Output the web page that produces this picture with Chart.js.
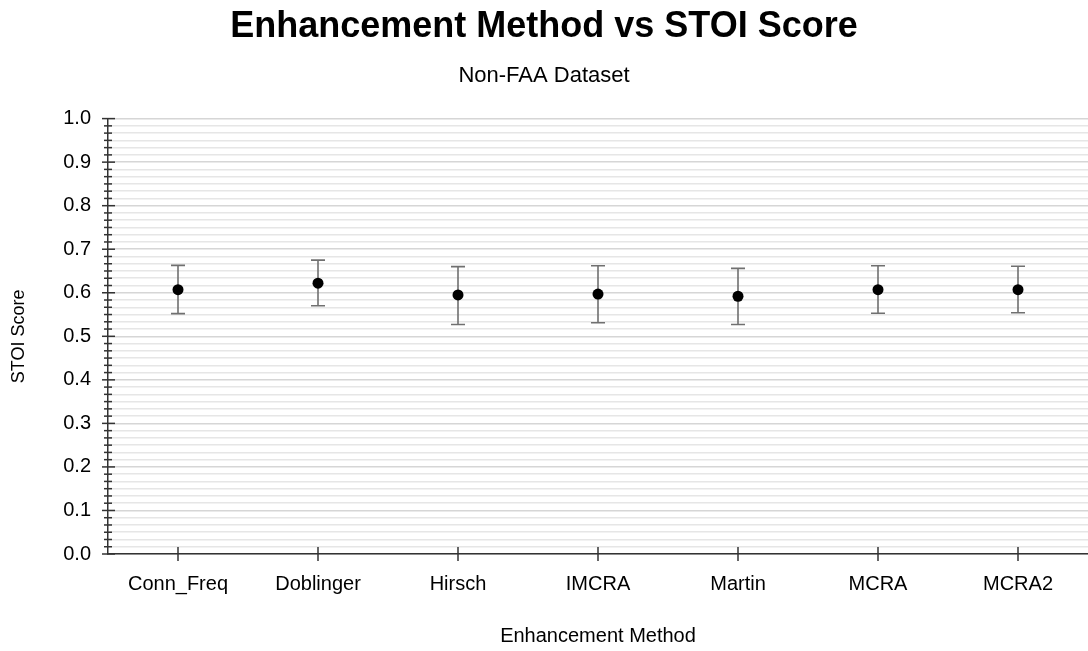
<!DOCTYPE html>
<html>
<head>
<meta charset="utf-8">
<script src="https://cdn.jsdelivr.net/npm/chart.js@4/dist/chart.umd.min.js"></script>
<style>
  html, body { margin: 0; padding: 0; background: #ffffff; }
  #wrap { width: 1088px; height: 651px; }
</style>
</head>
<body>
<div id="wrap"><canvas id="chart" width="1088" height="651"></canvas></div>
<script>
// Enhancement methods (x categories)
const methods = ['Conn_Freq', 'Doblinger', 'Hirsch', 'IMCRA', 'Martin', 'MCRA', 'MCRA2'];
// Mean STOI score per method
const stoiMean = [0.607, 0.622, 0.595, 0.597, 0.592, 0.607, 0.607];
// Lower / upper ends of the error bars
const stoiLow  = [0.552, 0.570, 0.527, 0.531, 0.527, 0.553, 0.554];
const stoiHigh = [0.663, 0.675, 0.660, 0.662, 0.656, 0.662, 0.661];
// Labelled y ticks and the number of minor divisions between them
const yMajorLabels = ['0.0', '0.1', '0.2', '0.3', '0.4', '0.5', '0.6', '0.7', '0.8', '0.9', '1.0'];
const minorSteps = 6;

const FONT = '"Liberation Sans", Arial, Helvetica, sans-serif';

// y grid positions: every major label split into minor steps
const yGridValues = [];
for (let i = 0; i <= (yMajorLabels.length - 1) * minorSteps; i++) {
  yGridValues.push(i / (10 * minorSteps));
}

// Error bars drawn from the low/high arrays through the chart scales
const errorBars = {
  id: 'errorBars',
  beforeDatasetsDraw(chart) {
    const { ctx, scales: { x, y } } = chart;
    ctx.save();
    ctx.strokeStyle = '#707070';
    ctx.lineWidth = 1.6;
    const cap = 7;
    methods.forEach((m, i) => {
      const px = x.getPixelForValue(i);
      const top = y.getPixelForValue(stoiHigh[i]);
      const bot = y.getPixelForValue(stoiLow[i]);
      ctx.beginPath();
      ctx.moveTo(px, top); ctx.lineTo(px, bot);
      ctx.moveTo(px - cap, top); ctx.lineTo(px + cap, top);
      ctx.moveTo(px - cap, bot); ctx.lineTo(px + cap, bot);
      ctx.stroke();
    });
    ctx.restore();
  }
};

// Tick marks that cross the axis lines
const crossTicks = {
  id: 'crossTicks',
  afterDraw(chart) {
    const { ctx, scales: { x, y }, chartArea } = chart;
    ctx.save();
    ctx.strokeStyle = '#333333';
    ctx.lineWidth = 1.5;
    const ax = chartArea.left;
    y.ticks.forEach((t, i) => {
      const py = y.getPixelForValue(t.value);
      const major = i % minorSteps === 0;
      ctx.beginPath();
      if (major) { ctx.moveTo(ax - 6, py); ctx.lineTo(ax + 7, py); }
      else { ctx.moveTo(ax - 4, py); ctx.lineTo(ax + 4, py); }
      ctx.stroke();
    });
    const ay = chartArea.bottom;
    methods.forEach((m, i) => {
      const px = x.getPixelForValue(i);
      ctx.beginPath();
      ctx.moveTo(px, ay - 7); ctx.lineTo(px, ay + 7);
      ctx.stroke();
    });
    ctx.restore();
  }
};

new Chart(document.getElementById('chart'), {
  type: 'line',
  data: {
    labels: methods,
    datasets: [{
      label: 'STOI Score',
      data: stoiMean,
      showLine: false,
      pointRadius: 5.5,
      pointHoverRadius: 5.5,
      pointBackgroundColor: '#000000',
      pointBorderColor: '#000000',
      pointBorderWidth: 0
    }]
  },
  options: {
    responsive: false,
    animation: false,
    devicePixelRatio: 1,
    layout: { autoPadding: false, padding: { left: 0, right: 0, top: 0, bottom: 0 } },
    plugins: {
      legend: { display: false },
      tooltip: { enabled: false },
      title: {
        display: true,
        text: 'Enhancement Method vs STOI Score',
        color: '#000000',
        font: { family: FONT, size: 36, weight: 'bold' },
        padding: { top: 5, bottom: 15 }
      },
      subtitle: {
        display: true,
        text: 'Non-FAA Dataset',
        color: '#000000',
        font: { family: FONT, size: 22, weight: 'normal' },
        padding: { top: 0, bottom: 29 }
      }
    },
    scales: {
      x: {
        type: 'category',
        offset: true,
        afterFit(s) { s.height = 97; },
        grid: { display: true, drawOnChartArea: false, drawTicks: false, color: 'rgba(0,0,0,0)' },
        border: { display: true, color: '#333333', width: 1.5 },
        ticks: {
          color: '#000000',
          font: { family: FONT, size: 20 },
          padding: 18,
          maxRotation: 0,
          autoSkip: false
        },
        title: {
          display: true,
          text: 'Enhancement Method',
          color: '#000000',
          font: { family: FONT, size: 20 },
          padding: { top: 0, bottom: 3 }
        }
      },
      y: {
        min: 0,
        max: 1,
        afterFit(s) { s.width = 108; },
        afterBuildTicks(s) { s.ticks = yGridValues.map(v => ({ value: v })); },
        grid: {
          drawTicks: false,
          color: (c) => (c.index % minorSteps === 0 ? '#d6d6d6' : '#e6e6e6'),
          lineWidth: 1.5
        },
        border: { display: true, color: '#333333', width: 1.5 },
        ticks: {
          autoSkip: false,
          color: '#000000',
          font: { family: FONT, size: 20 },
          padding: 17,
          callback(v, i) { return i % minorSteps === 0 ? yMajorLabels[i / minorSteps] : ''; }
        },
        title: {
          display: true,
          text: 'STOI Score',
          color: '#000000',
          font: { family: FONT, size: 18 },
          padding: { top: 8, bottom: 0 }
        }
      }
    }
  },
  plugins: [errorBars, crossTicks]
});
</script>
</body>
</html>
